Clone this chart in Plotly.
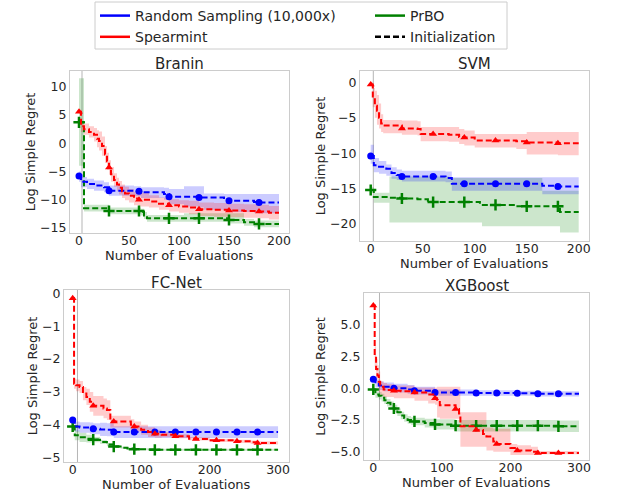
import numpy as np
import plotly.graph_objects as go

W, H = 618, 493

# ---------------- data ----------------
benchmarks = ["Branin", "SVM", "FC-Net", "XGBoost"]
x_title = "Number of Evaluations"
y_title = "Log Simple Regret"
init_x = [3, 2.5, 7, 9]
marker_step = 30
x_max = [200, 200, 300, 300]

# Branin
branin_rs_x = [0, 2, 8, 15, 25, 30, 55, 62, 85, 90, 105, 120, 125, 145, 150, 175, 180, 200]
branin_rs_m = [-5.8, -6.8, -7.2, -7.5, -7.8, -8.4, -8.5, -8.7, -9.0, -9.5, -9.5, -9.6, -9.6, -10.0, -10.2, -10.4, -10.5, -10.5]
branin_rs_hi = [-5.0, -6.0, -6.3, -6.6, -6.9, -7.5, -7.6, -7.8, -7.9, -8.1, -7.6, -7.6, -8.9, -9.0, -9.0, -9.0, -9.0, -9.0]
branin_rs_lo = [-6.8, -7.8, -8.1, -8.4, -8.7, -9.3, -9.4, -9.7, -10.0, -10.8, -11.2, -11.4, -11.8, -12.0, -12.2, -12.3, -12.4, -12.4]

branin_sp_x = [0, 2, 5, 10, 15, 18, 20, 23, 26, 28, 30, 32, 35, 38, 40, 43, 46, 50, 55, 60, 70, 80, 90, 100, 110, 120, 135, 150, 165, 180, 190, 200]
branin_sp_m = [5.6, 3.0, 2.5, 2.0, 1.5, 0.8, 0.4, -0.5, -2.0, -3.2, -4.3, -5.5, -6.5, -7.3, -7.9, -8.5, -8.9, -9.3, -9.8, -10.0, -10.3, -10.7, -11.0, -11.2, -11.4, -11.7, -11.8, -11.9, -12.0, -12.1, -12.3, -12.3]
branin_sp_w = [0.4, 1.0, 1.0, 1.0, 1.2, 1.5, 1.7, 1.7, 1.5, 1.5, 1.3, 1.3, 1.2, 1.2, 1.2, 1.2, 1.2, 1.2, 1.2, 1.2, 1.1, 1.1, 1.1, 1.1, 1.2, 1.2, 1.2, 1.2, 1.2, 1.2, 1.2, 1.2]

branin_pr_x = [0, 5, 28, 30, 62, 65, 68, 105, 145, 150, 165, 175, 200]
branin_pr_m = [3.7, -11.5, -11.5, -12.0, -12.2, -12.8, -13.3, -13.3, -13.3, -13.6, -14.0, -14.3, -14.3]
branin_pr_hi = [11.5, -10.9, -10.9, -11.4, -11.6, -12.2, -12.7, -12.4, -12.4, -12.4, -13.4, -13.7, -13.7]
branin_pr_lo = [-4.0, -12.1, -12.1, -12.6, -12.8, -13.4, -13.9, -13.9, -13.9, -14.2, -14.6, -14.9, -14.9]

# SVM
svm_sp_x = [0, 2, 4, 6, 8, 10, 12, 30, 45, 48, 75, 85, 90, 100, 140, 150, 180, 200]
svm_sp_m = [-0.3, -2.0, -3.3, -4.0, -5.0, -5.8, -6.1, -6.5, -6.6, -7.3, -7.4, -7.7, -7.8, -8.2, -8.3, -8.5, -8.6, -8.6]
svm_sp_hi = [0.0, -0.8, -1.2, -1.8, -3.0, -4.5, -5.3, -5.4, -5.5, -6.3, -6.3, -6.6, -6.8, -7.3, -7.3, -7.0, -7.0, -7.0]
svm_sp_lo = [-0.6, -3.5, -5.0, -6.0, -6.5, -7.0, -7.2, -7.4, -7.5, -8.3, -8.4, -8.7, -8.9, -9.2, -9.4, -10.2, -10.3, -10.3]

svm_rs_x = [0, 3, 8, 15, 20, 25, 30, 60, 72, 78, 150, 165, 180, 200]
svm_rs_m = [-10.4, -11.7, -11.9, -12.2, -12.8, -13.1, -13.3, -13.3, -13.5, -14.3, -14.3, -14.6, -14.7, -14.7]
svm_rs_hi = [-8.8, -10.7, -11.1, -11.6, -12.0, -12.3, -12.5, -12.5, -12.6, -13.4, -13.4, -13.4, -13.4, -13.4]
svm_rs_lo = [-11.5, -12.7, -12.9, -13.2, -13.6, -13.8, -14.0, -14.0, -14.1, -15.3, -15.3, -15.8, -15.8, -15.8]

svm_pr_x = [0, 3, 18, 30, 45, 55, 75, 90, 105, 107, 140, 165, 180, 182, 200]
svm_pr_m = [-15.2, -16.2, -16.3, -16.4, -16.5, -16.9, -16.9, -16.9, -17.3, -17.3, -17.5, -17.5, -17.5, -18.3, -18.3]
svm_pr_hi = [-14.8, -15.6, -13.3, -13.3, -13.3, -13.3, -13.5, -13.5, -13.5, -13.5, -13.5, -15.3, -15.3, -15.3, -15.3]
svm_pr_lo = [-15.6, -17.0, -19.8, -19.8, -19.8, -19.8, -19.8, -19.8, -19.8, -20.3, -20.3, -20.3, -20.3, -21.2, -21.2]

# FC-Net
fc_sp_x = [0, 2, 5, 10, 15, 20, 25, 30, 45, 50, 55, 60, 85, 90, 100, 110, 120, 130, 150, 170, 180, 200, 240, 260, 270, 300]
fc_sp_m = [-0.15, -2.75, -2.8, -2.85, -3.05, -3.15, -3.3, -3.42, -3.5, -3.55, -3.9, -3.9, -4.0, -4.05, -4.15, -4.22, -4.27, -4.3, -4.35, -4.42, -4.43, -4.47, -4.5, -4.53, -4.55, -4.55]
fc_sp_w = [0.0, 0.15, 0.18, 0.18, 0.2, 0.25, 0.3, 0.3, 0.3, 0.3, 0.18, 0.18, 0.17, 0.15, 0.15, 0.15, 0.12, 0.08, 0.06, 0.05, 0.05, 0.05, 0.05, 0.05, 0.05, 0.05]

fc_rs_x = [0, 3, 10, 25, 30, 40, 50, 60, 300]
fc_rs_m = [-3.85, -4.05, -4.08, -4.1, -4.12, -4.14, -4.15, -4.22, -4.22]
fc_rs_w = [0.05, 0.15, 0.16, 0.17, 0.17, 0.2, 0.2, 0.18, 0.18]

fc_pr_x = [0, 3, 10, 20, 30, 40, 50, 60, 70, 80, 90, 110, 120, 300]
fc_pr_m = [-4.05, -4.32, -4.38, -4.42, -4.45, -4.52, -4.6, -4.66, -4.7, -4.72, -4.74, -4.75, -4.76, -4.76]
fc_pr_w = [0.05, 0.15, 0.14, 0.12, 0.08, 0.06, 0.05, 0.04, 0.03, 0.03, 0.03, 0.03, 0.03, 0.03]

# XGBoost
xgb_sp_x = [0, 2, 4, 6, 8, 10, 15, 20, 30, 40, 60, 80, 90, 93, 97, 120, 125, 127, 150, 160, 165, 175, 180, 200, 210, 230, 240, 300]
xgb_sp_m = [6.5, 2.5, 1.5, 1.0, 0.5, 0.1, -0.1, -0.15, -0.2, -0.25, -0.35, -0.5, -0.8, -1.0, -1.35, -1.65, -2.0, -3.0, -3.3, -3.6, -3.8, -4.2, -4.4, -4.7, -4.9, -5.0, -5.1, -5.1]
xgb_sp_hi = [6.5, 3.3, 2.3, 1.8, 1.3, 0.5, 0.4, 0.3, 0.2, 0.2, 0.05, 0.05, 0.05, 0.1, 0.1, 0.1, 0.1, -1.9, -1.9, -1.9, -3.1, -3.2, -3.2, -4.4, -4.5, -4.6, -4.95, -4.95]
xgb_sp_lo = [6.5, 1.7, 0.7, 0.2, -0.3, -0.6, -0.7, -0.7, -0.8, -0.8, -1.0, -1.2, -1.3, -2.3, -2.4, -2.4, -2.4, -4.6, -4.6, -4.6, -4.9, -5.0, -5.0, -5.25, -5.25, -5.25, -5.2, -5.2]

xgb_rs_x = [0, 3, 8, 15, 30, 50, 60, 90, 150, 210, 240, 300]
xgb_rs_m = [0.7, 0.35, 0.2, 0.1, 0.0, -0.1, -0.2, -0.35, -0.38, -0.4, -0.45, -0.45]
xgb_rs_w = [0.1, 0.3, 0.35, 0.35, 0.35, 0.35, 0.3, 0.25, 0.22, 0.2, 0.2, 0.2]

xgb_pr_x = [0, 3, 8, 12, 16, 20, 25, 30, 35, 40, 45, 50, 55, 60, 75, 90, 120, 270, 300]
xgb_pr_m = [-0.1, -0.5, -0.6, -0.75, -0.95, -1.15, -1.35, -1.6, -1.9, -2.15, -2.35, -2.5, -2.58, -2.62, -2.75, -2.85, -2.95, -3.0, -3.0]
xgb_pr_w = [0.05, 0.25, 0.3, 0.3, 0.3, 0.3, 0.3, 0.3, 0.3, 0.3, 0.3, 0.3, 0.3, 0.3, 0.35, 0.4, 0.45, 0.45, 0.45]

y_ranges = [[-15.9, 12.8], [-22.4, 1.6], [-5.13, 0.1], [-5.65, 7.48]]
x_ranges = [[-9, 210], [-10.3, 209.9], [-12.7, 316], [-13.6, 314.6]]
y_ticks = [[-15, -10, -5, 0, 5, 10], [-20, -15, -10, -5, 0], [-5, -4, -3, -2, -1, 0], [-5.0, -2.5, 0.0, 2.5, 5.0]]
x_ticks = [[0, 50, 100, 150, 200], [0, 50, 100, 150, 200], [0, 100, 200, 300], [0, 100, 200, 300]]

# ---------------- layout geometry (pixels) ----------------
boxes = [  # left, right, top, bottom
    (70, 289, 71, 233),
    (360, 589, 71, 241),
    (64, 289, 290, 462),
    (364, 589, 293, 460),
]
xtitle_offset = [23, 22, 22, 22]


def py(p):
    """pixel row -> paper fraction"""
    return 1 - p / H


colors = {"rs": "#0000ff", "sp": "#ff0000", "pr": "#008000"}
fills = {"rs": "rgba(0,0,255,0.2)", "sp": "rgba(255,0,0,0.2)", "pr": "rgba(0,128,0,0.2)"}
symbols = {"rs": "circle", "sp": "triangle-up", "pr": "cross-thin"}
msize = {"rs": 7, "sp": 7, "pr": 8}


def band(m, w):
    m = np.array(m, float)
    w = np.array(w, float)
    return list(m - w), list(m + w)


def extend(v, xs, xend):
    v = list(v)
    return v + [v[-1]] if xs[-1] < xend else v


series = [
    {"rs": (branin_rs_x, branin_rs_m, branin_rs_lo, branin_rs_hi),
     "sp": (branin_sp_x, branin_sp_m) + tuple(band(branin_sp_m, branin_sp_w)),
     "pr": (branin_pr_x, branin_pr_m, branin_pr_lo, branin_pr_hi)},
    {"rs": (svm_rs_x, svm_rs_m, svm_rs_lo, svm_rs_hi),
     "sp": (svm_sp_x, svm_sp_m, svm_sp_lo, svm_sp_hi),
     "pr": (svm_pr_x, svm_pr_m, svm_pr_lo, svm_pr_hi)},
    {"rs": (fc_rs_x, fc_rs_m) + tuple(band(fc_rs_m, fc_rs_w)),
     "sp": (fc_sp_x, fc_sp_m) + tuple(band(fc_sp_m, fc_sp_w)),
     "pr": (fc_pr_x, fc_pr_m) + tuple(band(fc_pr_m, fc_pr_w))},
    {"rs": (xgb_rs_x, xgb_rs_m) + tuple(band(xgb_rs_m, xgb_rs_w)),
     "sp": (xgb_sp_x, xgb_sp_m, xgb_sp_lo, xgb_sp_hi),
     "pr": (xgb_pr_x, xgb_pr_m) + tuple(band(xgb_pr_m, xgb_pr_w))},
]

fig = go.Figure()
annotations = []
shapes = []
layout = {}

for i, name in enumerate(benchmarks):
    k = "" if i == 0 else str(i + 1)
    xa, ya = "x" + k, "y" + k
    L, R, T, B = boxes[i]
    for key in ["pr", "rs", "sp"]:
        xs, m, lo, hi = series[i][key]
        xm = list(xs) + ([x_max[i]] if xs[-1] < x_max[i] else [])
        fig.add_trace(go.Scatter(x=xm, y=extend(hi, xs, x_max[i]), mode="lines",
                                 line=dict(width=0, shape="hv"),
                                 xaxis=xa, yaxis=ya, showlegend=False, hoverinfo="skip"))
        fig.add_trace(go.Scatter(x=xm, y=extend(lo, xs, x_max[i]), mode="lines",
                                 line=dict(width=0, shape="hv"),
                                 fill="tonexty", fillcolor=fills[key],
                                 xaxis=xa, yaxis=ya, showlegend=False, hoverinfo="skip"))
    for key in ["pr", "rs", "sp"]:
        xs, m, lo, hi = series[i][key]
        xm = list(xs) + ([x_max[i]] if xs[-1] < x_max[i] else [])
        mm = extend(m, xs, x_max[i])
        fig.add_trace(go.Scatter(x=xm, y=mm, mode="lines",
                                 line=dict(color=colors[key], width=2, dash="6px,3px", shape="hv"),
                                 xaxis=xa, yaxis=ya, showlegend=False))
        mx = np.arange(0, x_max[i], marker_step)
        idx = np.searchsorted(np.array(xm, float), mx, side="right") - 1
        my = np.array(mm)[idx]
        fig.add_trace(go.Scatter(x=mx, y=my, mode="markers",
                                 marker=dict(color=colors[key], size=msize[key], symbol=symbols[key],
                                             line=dict(width=2.5 if key == "pr" else 0, color=colors[key])),
                                 xaxis=xa, yaxis=ya, showlegend=False))
    # initialization line
    shapes.append(dict(type="line", xref=xa, yref=ya + " domain", x0=init_x[i], x1=init_x[i],
                       y0=0, y1=1, line=dict(color="rgba(120,120,120,0.55)", width=1), layer="below"))

    layout["xaxis" + k] = dict(
        domain=[L / W, R / W], anchor=ya, range=x_ranges[i], tickvals=x_ticks[i], automargin=False,
        showline=True, mirror=True, linecolor="#cccccc", linewidth=1, showgrid=False, zeroline=False,
        ticks="", tickfont=dict(size=12.5, color="#262626"), ticklabelstandoff=-4)
    layout["yaxis" + k] = dict(
        domain=[py(B), py(T)], anchor=xa, range=y_ranges[i], tickvals=y_ticks[i], automargin=False,
        tickformat=".1f" if i == 3 else "d",
        showline=True, mirror=True, linecolor="#cccccc", linewidth=1, showgrid=False, zeroline=False,
        ticks="", tickfont=dict(size=12.5, color="#262626"),
        title=dict(text=y_title, font=dict(size=13, color="#262626"), standoff=1))
    # subplot title
    annotations.append(dict(text=name, xref="paper", yref="paper", x=(L + R) / 2 / W, y=py(T),
                            xanchor="center", yanchor="middle", yshift=7, showarrow=False,
                            font=dict(size=15, color="#262626")))
    # x-axis title
    annotations.append(dict(text=x_title, xref="paper", yref="paper", x=(L + R) / 2 / W, y=py(B),
                            xanchor="center", yanchor="middle", yshift=-xtitle_offset[i], showarrow=False,
                            borderpad=0, font=dict(size=13, color="#262626")))

# legend entries
legend_items = [("Random Sampling (10,000x)", colors["rs"], "solid", "legend"),
                ("Spearmint", colors["sp"], "solid", "legend"),
                ("PrBO", colors["pr"], "solid", "legend2"),
                ("Initialization", "#000000", "dash", "legend2")]
for label, c, d, lg in legend_items:
    fig.add_trace(go.Scatter(x=[None], y=[None], mode="lines", name=label,
                             line=dict(color=c, width=2.5, dash="6px,3px" if d == "dash" else "solid"),
                             legend=lg, showlegend=True))

shapes.append(dict(type="rect", xref="paper", yref="paper", x0=95 / W, x1=507 / W,
                   y0=py(49), y1=py(2), line=dict(color="#cccccc", width=1),
                   fillcolor="white", layer="below"))

leg_common = dict(bgcolor="rgba(0,0,0,0)", borderwidth=0, font=dict(size=14, color="#262626"),
                  yanchor="top", xanchor="left", orientation="v", tracegroupgap=0,
                  itemwidth=30, traceorder="normal")
fig.update_layout(
    width=W, height=H, margin=dict(l=0, r=0, t=0, b=0),
    paper_bgcolor="white", plot_bgcolor="white",
    font=dict(family="DejaVu Sans", color="#262626"),
    annotations=annotations, shapes=shapes,
    legend=dict(x=95 / W, y=1.0, **leg_common),
    legend2=dict(x=370 / W, y=1.0, **leg_common),
    **layout,
)

fig.write_html("out.html", config={"displayModeBar": False},
               post_script="document.body.style.margin='0';document.body.style.overflow='hidden';")
